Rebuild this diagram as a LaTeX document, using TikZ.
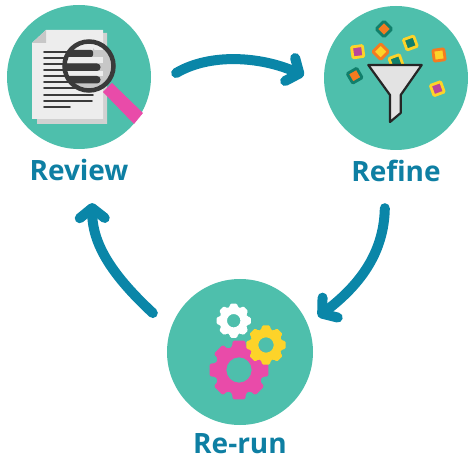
\documentclass[tikz,border=0pt]{standalone}
\usepackage{fontspec}
\setmainfont{Open Sans}
\usetikzlibrary{arrows.meta,positioning}
\definecolor{hubteal}{HTML}{4EBFAC}
\definecolor{flowblue}{HTML}{0A86A8}
\definecolor{labelblue}{HTML}{0E7FA3}
\definecolor{lenspink}{HTML}{E94BA9}
\definecolor{gearyellow}{HTML}{FDD329}
\definecolor{inkgrey}{HTML}{3A3A3A}
\definecolor{chipgreen}{HTML}{117F6B}
\definecolor{chiporange}{HTML}{F47B20}
\definecolor{chippurple}{HTML}{B8459C}
\newcommand{\gearicon}[6]{%
  \path[fill=#6, even odd rule, rounded corners=1.4pt]
    ([shift={(#1,#2)}]-22.5:#4)
    \foreach \t in {0,45,...,315} {
      -- ([shift={(#1,#2)}]\t-17:#4) -- ([shift={(#1,#2)}]\t-12:#3)
      -- ([shift={(#1,#2)}]\t+12:#3) -- ([shift={(#1,#2)}]\t+17:#4)
    } -- cycle
    (#1,#2) circle (#5);
}
\begin{document}
\begin{tikzpicture}[
    x=1pt, y=-1pt,
    hub/.style={circle, fill=hubteal, minimum size=144pt, inner sep=0pt},
    steplabel/.style={font=\fontsize{28}{30}\selectfont\bfseries, text=labelblue,
                      inner sep=0pt, text height=20pt, text depth=0pt},
    flow/.style={line width=10pt, draw=flowblue, line cap=round,
                 -{Straight Barb[length=10pt, width=25pt, round]}},
    chip/.style={draw, rectangle, line width=2.8pt, minimum size=11pt, inner sep=0pt,
                 rounded corners=1pt},
    sheetline/.style={line width=1.8pt, draw=inkgrey, line cap=round},
  ]
  \useasboundingbox (0,0) rectangle (474,462);

  % --- three hubs and their labels ---
  \node[hub] (review) at (79,77) {};
  \node[hub] (refine) at (396,78) {};
  \node[hub, minimum size=146pt] (rerun) at (240,352) {};
  \node[steplabel, below=11pt of review] (reviewlabel) {Review};
  \node[steplabel, below=11pt of refine] (refinelabel) {Refine};
  \node[steplabel, below=8pt of rerun] (rerunlabel) {Re-run};

  % --- arrows between hubs ---
  \draw[flow, shorten <=30pt, shorten >=22pt] (review.-9)
    .. controls (210,53) and (260,56.4) .. (refine.185);
  \draw[flow, shorten <=58.7pt, shorten >=13pt] (refine.-98)
    .. controls (384,250) and (363,282.5) .. (rerun.22);
  \draw[flow, shorten <=24pt, shorten >=55pt] (rerun.162)
    .. controls (113,276) and (92.5,245) .. (review.-80);

  % --- review icon: paper and magnifier ---
  \fill[black!18] (37,119) -- (37,124) -- (107,124) -- (107,33) -- (103,33) -- (103,119) -- cycle;
  \fill[black!7] (32,43) -- (46,30) -- (103,30) -- (103,119) -- (32,119) -- cycle;
  \fill[black!22] (32,43) -- (46,30) -- (46,43) -- cycle;
  \foreach \ypos/\xend in {52.3/92,58.3/92,64.3/92,70.3/92,76.3/92,82.3/92,88.3/92,94.7/93,101/92,107.3/70} {
    \draw[sheetline] (44,\ypos) -- (\xend,\ypos);
  }
  \fill[lenspink] (112,83) -- (103,92) -- (134,124) -- (143,113) -- cycle;
  \begin{scope}
    \clip (89,66) circle (25);
    \fill[black!22] (60,40) rectangle (120,95);
    \fill[black!7] (60,57) rectangle (103,63.5);
    \fill[black!7] (60,71) rectangle (103,76);
    \fill[black!7] (60,40) rectangle (103,50);
    \fill[black!22] (93,48) -- (100,57) -- (93,57) -- cycle;
    \fill[inkgrey, rounded corners=2pt] (60,50) rectangle (93,57);
    \fill[inkgrey, rounded corners=3.5pt] (60,63.5) rectangle (100.5,71);
    \fill[inkgrey, rounded corners=3.5pt] (60,76) rectangle (100.5,83.5);
  \end{scope}
  \draw[inkgrey, line width=4.5pt] (89,66) circle (24.5);

  % --- refine icon: chips and funnel ---
  \foreach \cx/\cy/\ang/\edge/\core [count=\i] in {
      384/29/45/chipgreen/chiporange, 410.3/43/20/gearyellow/chipgreen,
      357.7/51.7/8/gearyellow/chippurple, 380.7/51.7/45/chiporange/gearyellow,
      396/61.7/20/gearyellow/chipgreen, 439/55/8/chiporange/gearyellow,
      354.7/75.7/30/chipgreen/chiporange, 437.3/88.7/20/gearyellow/chippurple} {
    \node[chip, rotate=\ang, draw=\edge, fill=\core] (chip\i) at (\cx,\cy) {};
  }
  \filldraw[fill=black!11, draw=black!85, line width=2.2pt, line join=round]
    (368.3,65) -- (421.7,65) -- (400.7,95) -- (400.7,113) -- (390,122) -- (390,95) -- cycle;

  % --- re-run icon: gears ---
  \gearicon{239}{370}{30}{24}{12.7}{lenspink}
  \gearicon{233.7}{320.7}{17.5}{14}{6.7}{white}
  \gearicon{266}{345}{20}{16}{7.7}{gearyellow}
\end{tikzpicture}
\end{document}
